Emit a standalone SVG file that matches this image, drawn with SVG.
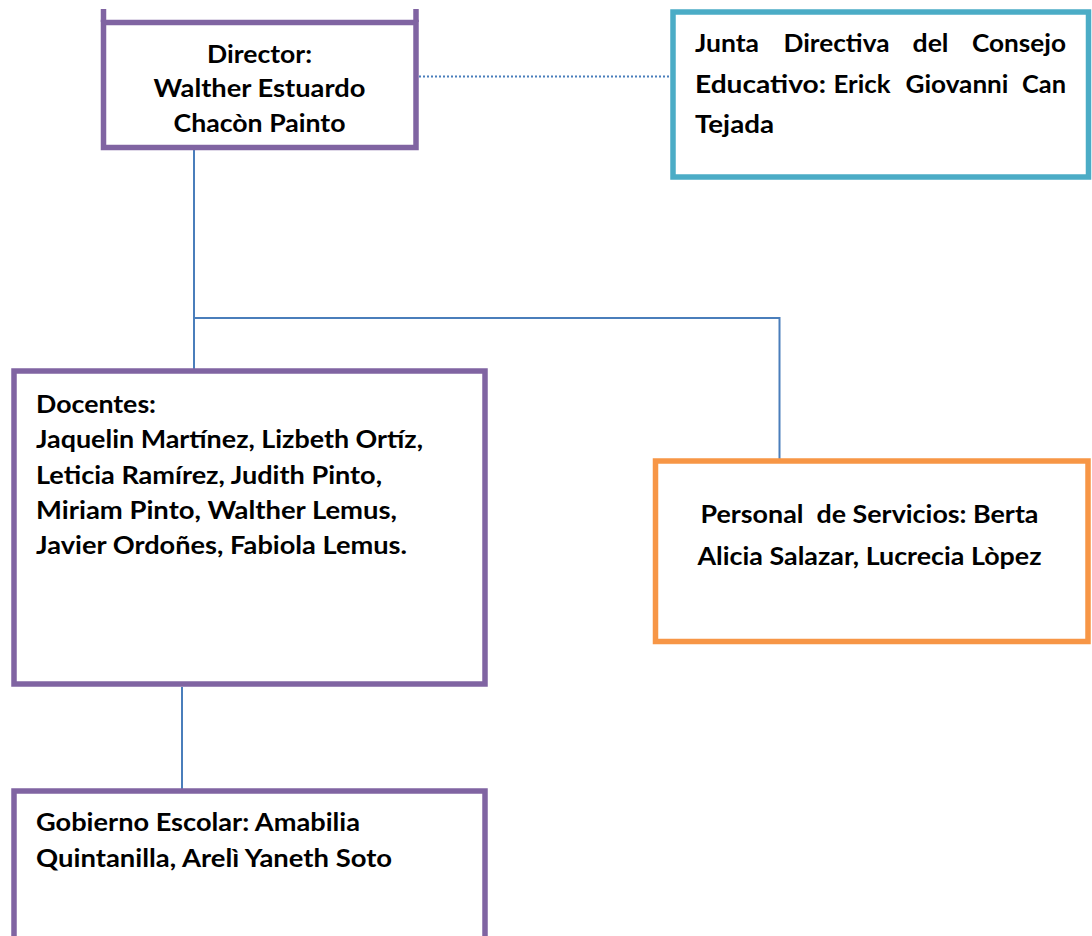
<svg xmlns="http://www.w3.org/2000/svg" width="1092" height="936" viewBox="0 0 1092 936">
<style>
.box{fill:#fff;stroke-width:5.5}
.purple{stroke:#8064A2}
.teal{stroke:#4BACC6}
.orange{stroke:#F79646}
.conn{fill:none;stroke:#4A7EBB;stroke-width:2}
.dot{fill:none;stroke:#4A7EBB;stroke-width:2;stroke-dasharray:2 2}
text{font-family:Lato,"Open Sans","Liberation Sans",sans-serif;font-weight:bold;font-size:24px;fill:#000}
.c{text-anchor:middle}
.e{text-anchor:end}
</style>
<rect width="1092" height="936" fill="#fff"/>
<g id="connectors">
<line class="dot" x1="419" y1="76.5" x2="671" y2="76.5"/>
<polyline class="conn" points="194,150 194,369"/>
<polyline class="conn" points="194,318 779.5,318 779.5,459"/>
<polyline class="conn" points="182,687 182,789"/>
</g>
<g id="director">
<line class="purple" stroke-width="5.5" x1="103.5" y1="9" x2="103.5" y2="22"/>
<line class="purple" stroke-width="5.5" x1="416" y1="9" x2="416" y2="22"/>
<rect class="box purple" x="103.5" y="22.5" width="312.5" height="125"/>
<text class="c" x="259.5" y="63" textLength="105" lengthAdjust="spacingAndGlyphs">Director:</text>
<text class="c" x="259.5" y="97" textLength="212" lengthAdjust="spacingAndGlyphs">Walther Estuardo</text>
<text class="c" x="259.5" y="132" textLength="172" lengthAdjust="spacingAndGlyphs">Chacòn Painto</text>
</g>
<g id="junta">
<rect class="box teal" x="673" y="12" width="415.5" height="165"/>
<text x="695" y="52" textLength="64" lengthAdjust="spacingAndGlyphs">Junta</text>
<text x="783.5" y="52" textLength="106" lengthAdjust="spacingAndGlyphs">Directiva</text>
<text x="912.5" y="52" textLength="36" lengthAdjust="spacingAndGlyphs">del</text>
<text x="972" y="52" textLength="94" lengthAdjust="spacingAndGlyphs">Consejo</text>
<text x="695" y="92.5" textLength="131" lengthAdjust="spacingAndGlyphs">Educativo:</text>
<text x="833.5" y="92.5" textLength="57" lengthAdjust="spacingAndGlyphs">Erick</text>
<text x="905.5" y="92.5" textLength="103" lengthAdjust="spacingAndGlyphs">Giovanni</text>
<text x="1022" y="92.5" textLength="44" lengthAdjust="spacingAndGlyphs">Can</text>
<text x="695" y="133" textLength="79" lengthAdjust="spacingAndGlyphs">Tejada</text>
</g>
<g id="docentes">
<rect class="box purple" x="14" y="371" width="471" height="313"/>
<text x="36" y="413" textLength="120" lengthAdjust="spacingAndGlyphs">Docentes:</text>
<text x="36" y="448" textLength="387" lengthAdjust="spacingAndGlyphs">Jaquelin Martínez, Lizbeth Ortíz,</text>
<text x="36" y="484" textLength="346" lengthAdjust="spacingAndGlyphs">Leticia Ramírez, Judith Pinto,</text>
<text x="36" y="519" textLength="361" lengthAdjust="spacingAndGlyphs">Miriam Pinto, Walther Lemus,</text>
<text x="36" y="554" textLength="371" lengthAdjust="spacingAndGlyphs">Javier Ordoñes, Fabiola Lemus.</text>
</g>
<g id="personal">
<rect class="box orange" x="655.5" y="461" width="432.5" height="180.5"/>
<text class="c" x="869.5" y="523" xml:space="preserve" textLength="338" lengthAdjust="spacingAndGlyphs">Personal  de Servicios: Berta</text>
<text class="c" x="869.5" y="565" textLength="344" lengthAdjust="spacingAndGlyphs">Alicia Salazar, Lucrecia Lòpez</text>
</g>
<g id="gobierno">
<rect class="box purple" x="14" y="791" width="471" height="160"/>
<text x="36" y="831" textLength="324" lengthAdjust="spacingAndGlyphs">Gobierno Escolar: Amabilia</text>
<text x="36" y="867" textLength="356" lengthAdjust="spacingAndGlyphs">Quintanilla, Arelì Yaneth Soto</text>
</g>
</svg>
